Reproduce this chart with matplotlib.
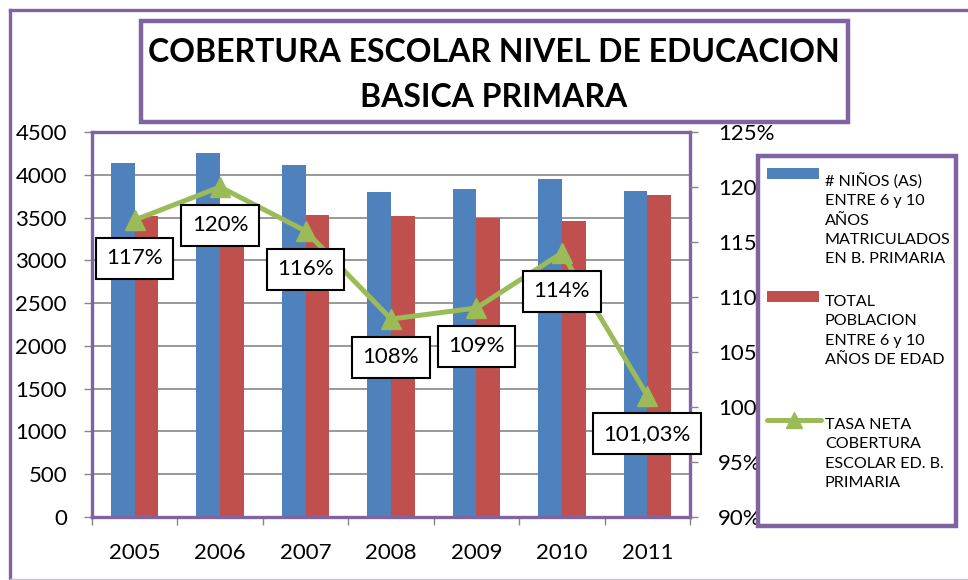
import matplotlib
matplotlib.use("Agg")
import matplotlib.pyplot as plt
from matplotlib.patches import Rectangle
from matplotlib.lines import Line2D
import numpy as np

years = ["2005", "2006", "2007", "2008", "2009", "2010", "2011"]
matriculados = [4137, 4258, 4114, 3803, 3834, 3947, 3814]
poblacion = [3518, 3550, 3534, 3522, 3491, 3456, 3764]
tasa = [117, 120, 116, 108, 109, 114, 101.03]
tasa_labels = ["117%", "120%", "116%", "108%", "109%", "114%", "101,03%"]
series_names = ["# NIÑOS (AS)\nENTRE 6 y 10\nAÑOS\nMATRICULADOS\nEN B. PRIMARIA",
                "TOTAL\nPOBLACION\nENTRE 6 y 10\nAÑOS DE EDAD",
                "TASA NETA\nCOBERTURA\nESCOLAR ED. B.\nPRIMARIA"]
title = "COBERTURA ESCOLAR NIVEL DE EDUCACION\nBASICA PRIMARA"

W, H = 968, 580
BLUE = "#4F81BD"
RED = "#C0504D"
GREEN = "#9BBB59"
PURPLE = "#8064A2"
GRID = "#868686"
FONT = "Lato"

plt.rcParams['font.family'] = [FONT, 'DejaVu Sans']

def fx(x):
    return x / W

def fy(y):
    return 1 - y / H

fig = plt.figure(figsize=(W / 100, H / 100), dpi=100)
fig.patch.set_facecolor("white")

# plot area
left, right, top, bottom = 92, 690, 132, 517
ax = fig.add_axes([fx(left), fy(bottom), fx(right) - fx(left), fy(top) - fy(bottom)])
ax2 = ax.twinx()

x = np.arange(len(years))
bw = 0.277
ax.bar(x - bw / 2, matriculados, width=bw, color=BLUE, zorder=2)
ax.bar(x + bw / 2, poblacion, width=bw, color=RED, zorder=2)
ax.set_xlim(-0.5, len(years) - 0.5)
ax.set_ylim(0, 4500)
ax.set_yticks(np.arange(0, 4501, 500))
ax.yaxis.grid(True, color=GRID, linewidth=1.2, zorder=0)
ax.set_axisbelow(True)
ax.set_xticks(x)
ax.set_xticklabels(years)
ax.set_xticks(np.arange(-0.5, len(years), 1), minor=True)
ax.tick_params(axis='x', which='major', length=0, pad=19, labelsize=16)
ax.tick_params(axis='x', which='minor', length=6, width=1, color=GRID, direction='out')
ax.tick_params(axis='y', length=6, width=1, color=GRID, pad=12, labelsize=16)
for s in ax.spines.values():
    s.set_color(PURPLE)
    s.set_linewidth(2.4)

ax2.plot(x, tasa, color=GREEN, linewidth=3.6, marker='^', markersize=15,
         markerfacecolor=GREEN, markeredgecolor=GREEN, zorder=3)
ax2.set_ylim(90, 125)
ax2.set_yticks(np.arange(90, 126, 5))
ax2.set_yticklabels([f"{v}%" for v in range(90, 126, 5)])
ax2.tick_params(axis='y', length=6, width=1, color=GRID, pad=14, labelsize=16)
for s in ax2.spines.values():
    s.set_visible(False)

for xi, v, lab in zip(x, tasa, tasa_labels):
    ax2.annotate(lab, (xi, v), xytext=(0, -27.5), textcoords='offset points',
                 ha='center', va='center', fontsize=16, color='black',
                 bbox=dict(boxstyle='square,pad=0.47', fc='white', ec='black', lw=1.5),
                 zorder=5, annotation_clip=False)

# outer chart border (cropped)
fig.add_artist(Line2D([fx(10), fx(10)], [fy(10), 0], color=PURPLE, lw=2.4))
fig.add_artist(Line2D([fx(10), 1], [fy(10), fy(10)], color=PURPLE, lw=2.4))
fig.add_artist(Line2D([fx(10), 1], [fy(579), fy(579)], color="#C8C0DC", lw=1.0))

# title box
fig.add_artist(Rectangle((fx(141), fy(122)), fx(848) - fx(141), fy(21) - fy(122),
                         facecolor='white', edgecolor=PURPLE, lw=3.2, zorder=4))
fig.text(fx(494), fy(75), title, ha='center', va='center', fontsize=23,
         fontweight='bold', linespacing=1.66, zorder=5)

# legend box
fig.add_artist(Rectangle((fx(758), fy(526)), fx(956) - fx(758), fy(156) - fy(526),
                         facecolor='white', edgecolor=PURPLE, lw=3.2, zorder=4))
fig.add_artist(Rectangle((fx(767), fy(179)), fx(819) - fx(767), fy(168) - fy(179),
                         facecolor=BLUE, edgecolor='none', zorder=5))
fig.add_artist(Rectangle((fx(767), fy(302)), fx(819) - fx(767), fy(291) - fy(302),
                         facecolor=RED, edgecolor='none', zorder=5))
fig.add_artist(Line2D([fx(767), fx(821)], [fy(420), fy(420)], color=GREEN, lw=3.6,
                      solid_capstyle='round', zorder=5))
fig.add_artist(Line2D([fx(794)], [fy(420)], color=GREEN, marker='^', markersize=11,
                      linestyle='none', zorder=5))
for name, yc in zip(series_names, [219.5, 331, 454]):
    fig.text(fx(825), fy(yc), name, ha='left', va='center', fontsize=11.6,
             linespacing=1.47, zorder=6)

fig.savefig("out.png", dpi=100)
